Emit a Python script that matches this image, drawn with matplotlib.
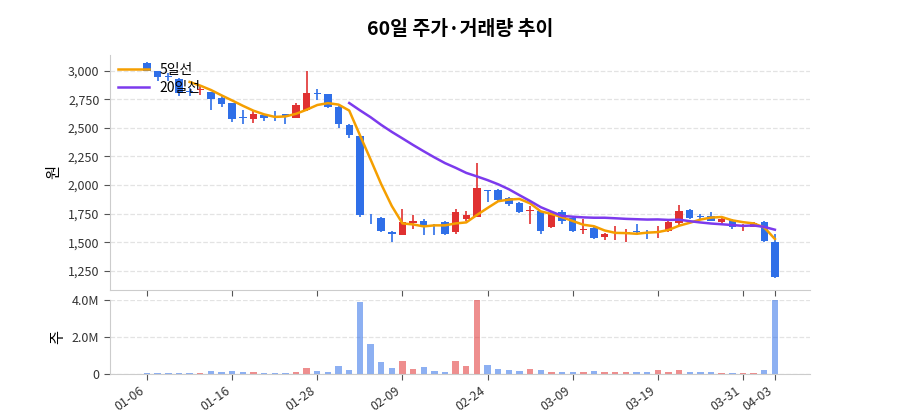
import numpy as np
import pandas as pd
import matplotlib
matplotlib.use("Agg")
import matplotlib.pyplot as plt

plt.rcParams['font.family'] = ['Noto Sans CJK KR', 'DejaVu Sans']

# trading days 2026-01-06 .. 2026-04-03 (holidays removed)
days = pd.bdate_range("2026-01-06", "2026-04-03")
days = days.drop(pd.to_datetime(["2026-02-16", "2026-02-17", "2026-02-18", "2026-03-02"]))
dates = [d.strftime("%m-%d") for d in days]

opens = [3070, 3000, 2950, 2930, 2820, 2830, 2810, 2760, 2715, 2590,
         2580, 2615, 2600, 2620, 2590, 2660, 2805, 2795, 2685, 2525,
         2425, 1740, 1715, 1590, 1565, 1670, 1690, 1650, 1680, 1590,
         1700, 1725, 1955, 1960, 1885, 1845, 1770, 1770, 1630, 1765,
         1715, 1610, 1625, 1545, 1580, 1585, 1595, 1590, 1590, 1595,
         1665, 1780, 1730, 1730, 1680, 1695, 1630, 1635, 1680, 1500]
highs = [3075, 3000, 2980, 2935, 2845, 2870, 2815, 2775, 2720, 2660,
         2645, 2620, 2645, 2625, 2715, 2995, 2840, 2800, 2690, 2530,
         2430, 1748, 1725, 1595, 1790, 1740, 1700, 1660, 1685, 1795,
         1775, 2195, 1960, 1965, 1900, 1850, 1820, 1775, 1775, 1780,
         1720, 1700, 1630, 1585, 1640, 1620, 1660, 1605, 1640, 1685,
         1825, 1795, 1745, 1765, 1710, 1705, 1660, 1680, 1685, 1570]
lows = [2995, 2910, 2905, 2780, 2780, 2790, 2660, 2680, 2550, 2530,
        2540, 2560, 2560, 2530, 2585, 2650, 2745, 2670, 2495, 2410,
        1720, 1660, 1590, 1505, 1560, 1620, 1560, 1565, 1565, 1575,
        1690, 1720, 1850, 1865, 1820, 1760, 1660, 1570, 1625, 1660,
        1590, 1575, 1530, 1520, 1520, 1505, 1560, 1525, 1540, 1590,
        1655, 1705, 1700, 1685, 1650, 1620, 1600, 1630, 1500, 1185]
closes = [3000, 2940, 2945, 2805, 2815, 2840, 2750, 2710, 2580, 2585,
          2625, 2590, 2598, 2600, 2700, 2805, 2795, 2680, 2535, 2440,
          1735, 1735, 1600, 1575, 1680, 1690, 1650, 1645, 1575, 1765,
          1735, 1975, 1950, 1870, 1835, 1765, 1780, 1600, 1760, 1690,
          1600, 1617, 1535, 1575, 1585, 1590, 1587, 1585, 1598, 1680,
          1775, 1715, 1725, 1685, 1705, 1630, 1635, 1670, 1510, 1200]
volumes = [0.03, 0.03, 0.03, 0.07, 0.07, 0.07, 0.13, 0.08, 0.15, 0.08,
           0.10, 0.03, 0.06, 0.06, 0.10, 0.32, 0.13, 0.08, 0.41, 0.19,
           3.90, 1.63, 0.64, 0.34, 0.70, 0.25, 0.36, 0.17, 0.11, 0.70,
           0.41, 4.00, 0.50, 0.25, 0.19, 0.17, 0.25, 0.19, 0.08, 0.11,
           0.11, 0.11, 0.17, 0.11, 0.08, 0.08, 0.08, 0.08, 0.19, 0.10,
           0.23, 0.08, 0.10, 0.08, 0.02, 0.02, 0.04, 0.07, 0.23, 4.00]

o = np.array(opens); h = np.array(highs); l = np.array(lows); c = np.array(closes)
v = np.array(volumes) * 1e6
x = np.arange(len(dates))
up = c >= o
UP = "#e03131"
DOWN = "#2f6fe8"
col = np.where(up, UP, DOWN)

ma5 = pd.Series(c).rolling(5).mean()
ma20 = pd.Series(c).rolling(20).mean()

fig = plt.figure(figsize=(9, 4.2), dpi=100)
ax = fig.add_axes([0.122, 0.31, 0.778, 0.56])
axv = fig.add_axes([0.122, 0.11, 0.778, 0.175], sharex=ax)

ax.vlines(x, l, h, color=col, linewidth=1.2, zorder=2)
body = np.maximum(np.abs(c - o), 6)
ax.bar(x, body, bottom=np.minimum(o, c), width=0.7, color=col, zorder=3)
ax.plot(x, ma5, color="#f59f00", linewidth=1.8, label="5일선", zorder=4)
ax.plot(x, ma20, color="#7c3aed", linewidth=1.8, label="20일선", zorder=4)

ax.set_ylim(1085, 3140)
ax.set_xlim(-3.5, 62.3)
ax.set_yticks([1250, 1500, 1750, 2000, 2250, 2500, 2750, 3000])
ax.yaxis.set_major_formatter(matplotlib.ticker.StrMethodFormatter("{x:,.0f}"))
ax.set_ylabel("원", fontsize=11)
ax.grid(axis="y", linestyle="--", color="#e3e3e3", linewidth=0.9)
ax.legend(loc="upper left", frameon=False, fontsize=10, handlelength=2.2,
          borderaxespad=0.2, labelspacing=0.3)
ax.set_title("60일 주가·거래량 추이", fontsize=14, fontweight="bold", pad=14)
plt.setp(ax.get_xticklabels(), visible=False)

axv.bar(x, v, width=0.6, color=col, alpha=0.55)
axv.set_ylim(0, v.max())
axv.set_yticks([0, 2e6, 4e6])
axv.set_yticklabels(["0", "2.0M", "4.0M"])
axv.set_ylabel("주", fontsize=11)
axv.grid(axis="y", linestyle="--", color="#e3e3e3", linewidth=0.9)
ticks = [0, 8, 16, 24, 32, 40, 48, 56, 59]
axv.set_xticks(ticks)
axv.set_xticklabels([dates[i] for i in ticks], rotation=35, ha="right", fontsize=9)

for a in (ax, axv):
    a.set_axisbelow(True)
    for s in ("top", "right"):
        a.spines[s].set_visible(False)
    for s in ("left", "bottom"):
        a.spines[s].set_color("#cccccc")
    a.tick_params(colors="#333333", labelsize=9, length=4)
    a.tick_params(axis="both", color="#555555")

fig.savefig("out.png")
